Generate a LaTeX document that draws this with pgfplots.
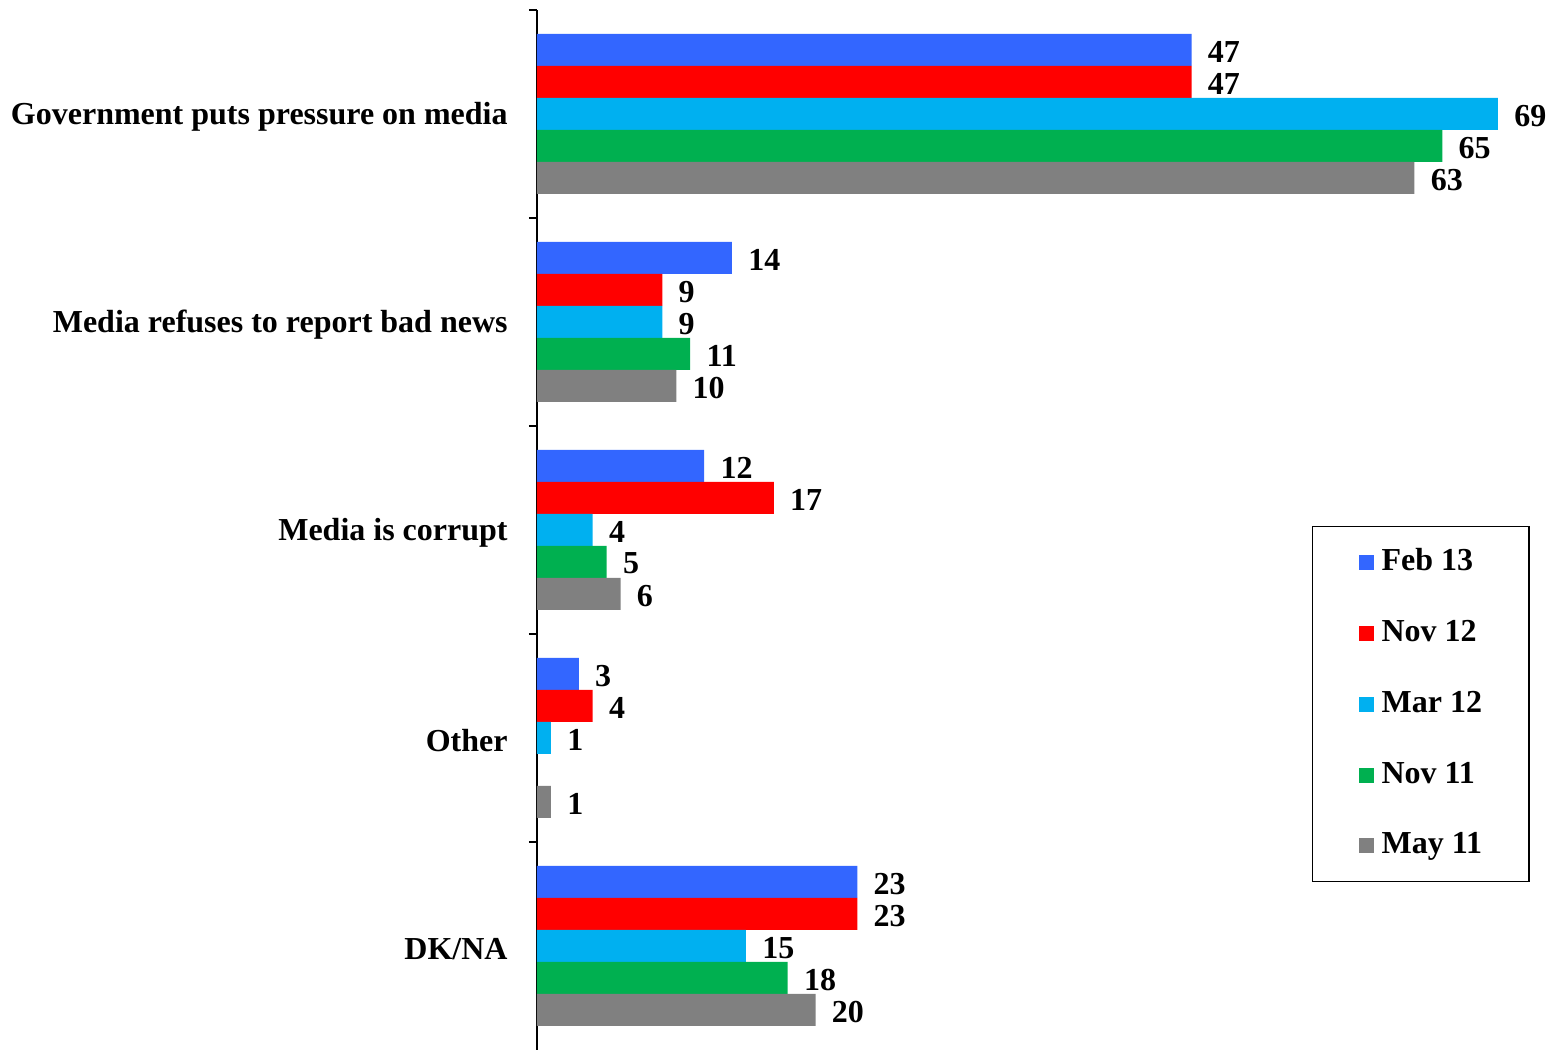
\documentclass[border=0pt]{standalone}
\usepackage{pgfplots}
\pgfplotsset{compat=1.18}
\usepackage{fontspec}
\setmainfont{Liberation Serif}
\definecolor{cFeb}{HTML}{3366FF}
\definecolor{cNovT}{HTML}{FF0000}
\definecolor{cMar}{HTML}{00B0F0}
\definecolor{cNovE}{HTML}{00B050}
\definecolor{cMay}{HTML}{808080}
\begin{document}
\begin{tikzpicture}
\begin{axis}[
  scale only axis,
  width=480.5pt, height=520pt,
  xmin=0, xmax=69, ymin=-0.5, ymax=4.5,
  xbar, bar width=16pt,
  axis x line=none,
  axis y line*=left,
  y axis line style={black, line width=0.8pt},
  ytick={0,1,2,3,4},
  yticklabels={DK/NA,Other,Media is corrupt,Media refuses to report bad news,Government puts pressure on media},
  major tick length=0pt,
  minor ytick={0.5,1.5,2.5,3.5,4.5},
  minor tick length=4pt,
  tick align=outside,
  ytick pos=left,
  tick style={black, line width=0.8pt},
  yticklabel style={font=\fontsize{16}{19}\selectfont\bfseries, inner sep=0pt, xshift=-14.5pt, yshift=-1.5pt},
  /pgf/number format/assume math mode=true,
  nodes near coords,
  nodes near coords style={font=\fontsize{16}{19}\selectfont\bfseries, anchor=west, inner sep=0pt, xshift=8pt, yshift=-0.8pt},
  legend style={at={(0.8065,0.5038)}, anchor=north west, draw=black, line width=0.6pt,
    font=\fontsize{16}{19}\selectfont\bfseries, inner xsep=21.5pt, inner ysep=9pt, row sep=17.4pt,
    nodes={inner sep=2pt, text height=11pt, text depth=3pt}},
  legend cell align=left,
  legend image code/.code={\path (0pt,0pt) (11pt,0pt); \fill[#1, draw=none] (1.5pt,-3.75pt) rectangle (9pt,3.75pt);},
]
\addplot[fill=cFeb, draw=none, bar shift=32pt] coordinates {(47,4) (14,3) (12,2) (3,1) (23,0)};
\addplot[fill=cNovT, draw=none, bar shift=16pt] coordinates {(47,4) (9,3) (17,2) (4,1) (23,0)};
\addplot[fill=cMar, draw=none, bar shift=0pt] coordinates {(69,4) (9,3) (4,2) (1,1) (15,0)};
\addplot[fill=cNovE, draw=none, bar shift=-16pt] coordinates {(65,4) (11,3) (5,2) (18,0)};
\addplot[fill=cMay, draw=none, bar shift=-32pt] coordinates {(63,4) (10,3) (6,2) (1,1) (20,0)};
\legend{Feb 13, Nov 12, Mar 12, Nov 11, May 11}
\end{axis}
\pgfresetboundingbox
\path (current axis.south west) ++(-268.5pt,0pt) rectangle ++(777pt,525pt);
\end{tikzpicture}
\end{document}
